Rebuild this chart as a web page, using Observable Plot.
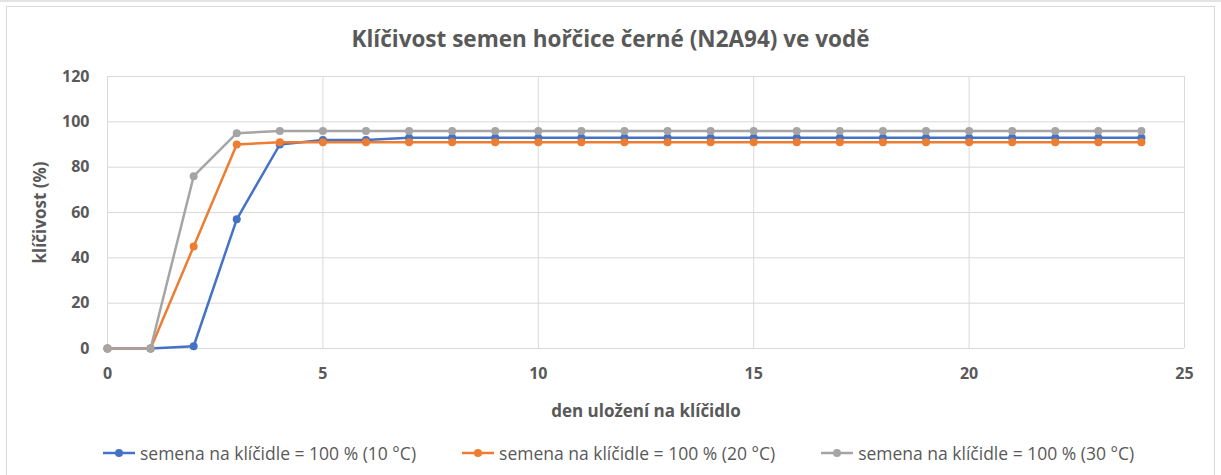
<!DOCTYPE html>
<html><head><meta charset="utf-8">
<script src="https://cdn.jsdelivr.net/npm/d3@7"></script>
<script src="https://cdn.jsdelivr.net/npm/@observablehq/plot@0.6"></script>
<style>
body{margin:0;background:#fff;font-family:"Open Sans",sans-serif;}
#wrap{position:relative;width:1221px;height:475px;overflow:hidden;background:#fff;}
#topbar{position:absolute;left:0;top:0;width:1221px;height:2px;background:#e3e3e3;}
#frame{position:absolute;left:6px;top:6px;width:1207px;height:490px;border:1px solid #d9d9d9;}
#title{position:absolute;top:24px;left:0;width:1221px;text-align:center;font-weight:700;font-size:22.5px;color:#595959;line-height:30px;}
#chart{position:absolute;left:0;top:60px;}
#legend{position:absolute;top:441px;left:103px;display:flex;gap:46px;font-size:17.5px;color:#595959;line-height:24px;}
.item{display:flex;align-items:center;}
.item svg{margin-right:5px;}
</style></head>
<body>
<div id="wrap">
<div id="topbar"></div>
<div id="frame"></div>
<div id="title"></div>
<div id="chart"></div>
<div id="legend"></div>
</div>
<script>
const title = "Klíčivost semen hořčice černé (N2A94) ve vodě";
const xLabel = "den uložení na klíčidlo";
const yLabel = "klíčivost (%)";
const seriesNames = ["semena na klíčidle = 100 % (10 °C)", "semena na klíčidle = 100 % (20 °C)", "semena na klíčidle = 100 % (30 °C)"];
const seriesColors = ["#4472C4", "#ED7D31", "#A5A5A5"];
const days = [0,1,2,3,4,5,6,7,8,9,10,11,12,13,14,15,16,17,18,19,20,21,22,23,24];
const s10 = [0,0,1,57,90,92,92,93,93,93,93,93,93,93,93,93,93,93,93,93,93,93,93,93,93];
const s20 = [0,0,45,90,91,91,91,91,91,91,91,91,91,91,91,91,91,91,91,91,91,91,91,91,91];
const s30 = [0,0,76,95,96,96,96,96,96,96,96,96,96,96,96,96,96,96,96,96,96,96,96,96,96];
const xTicks = [0,5,10,15,20,25];
const yTicks = [0,20,40,60,80,100,120];

document.getElementById("title").textContent = title;

const allSeries = [s10, s20, s30];
const data = allSeries.flatMap((vals, i) => days.map((d, j) => ({day: d, value: vals[j], series: seriesNames[i]})));

const colorScale = {domain: seriesNames, range: seriesColors};

const seriesMarks = seriesNames.flatMap(name => {
  const sub = data.filter(d => d.series === name);
  return [
    Plot.line(sub, {x: "day", y: "value", stroke: "series", strokeWidth: 2.5}),
    Plot.dot(sub, {x: "day", y: "value", fill: "series", r: 4, stroke: null})
  ];
});

const chart = Plot.plot({
  width: 1221,
  height: 370,
  marginTop: 16,
  marginBottom: 82,
  marginLeft: 107,
  marginRight: 37,
  style: {fontFamily: "Open Sans", fontSize: "16px", fontWeight: 700, color: "#595959", background: "transparent", overflow: "visible"},
  x: {domain: [0, 25]},
  y: {domain: [0, 120]},
  color: colorScale,
  marks: [
    Plot.gridY(yTicks, {stroke: "#d9d9d9", strokeOpacity: 1, strokeWidth: 1}),
    Plot.gridX(xTicks, {stroke: "#d9d9d9", strokeOpacity: 1, strokeWidth: 1}),
    Plot.axisX(xTicks, {tickSize: 0, tickPadding: 19, fill: "#595959", label: null}),
    Plot.axisY(yTicks, {tickSize: 0, tickPadding: 18, fill: "#595959", label: null}),
    Plot.axisX({tickSize: 0, ticks: [], label: xLabel, labelAnchor: "center", labelOffset: 68, labelArrow: "none", fill: "#595959", fontSize: 17}),
    Plot.axisY({tickSize: 0, ticks: [], label: yLabel, labelAnchor: "center", labelOffset: 74, labelArrow: "none", fill: "#595959", fontSize: 17}),
    ...seriesMarks
  ]
});
document.getElementById("chart").appendChild(chart);

const legend = document.getElementById("legend");
seriesNames.forEach((name, i) => {
  const item = document.createElement("div");
  item.className = "item";
  item.innerHTML = `<svg width="32" height="10"><line x1="0" y1="5" x2="32" y2="5" stroke="${seriesColors[i]}" stroke-width="2.5"/><circle cx="16" cy="5" r="4" fill="${seriesColors[i]}"/></svg><span>${name}</span>`;
  legend.appendChild(item);
});
</script>
</body></html>
